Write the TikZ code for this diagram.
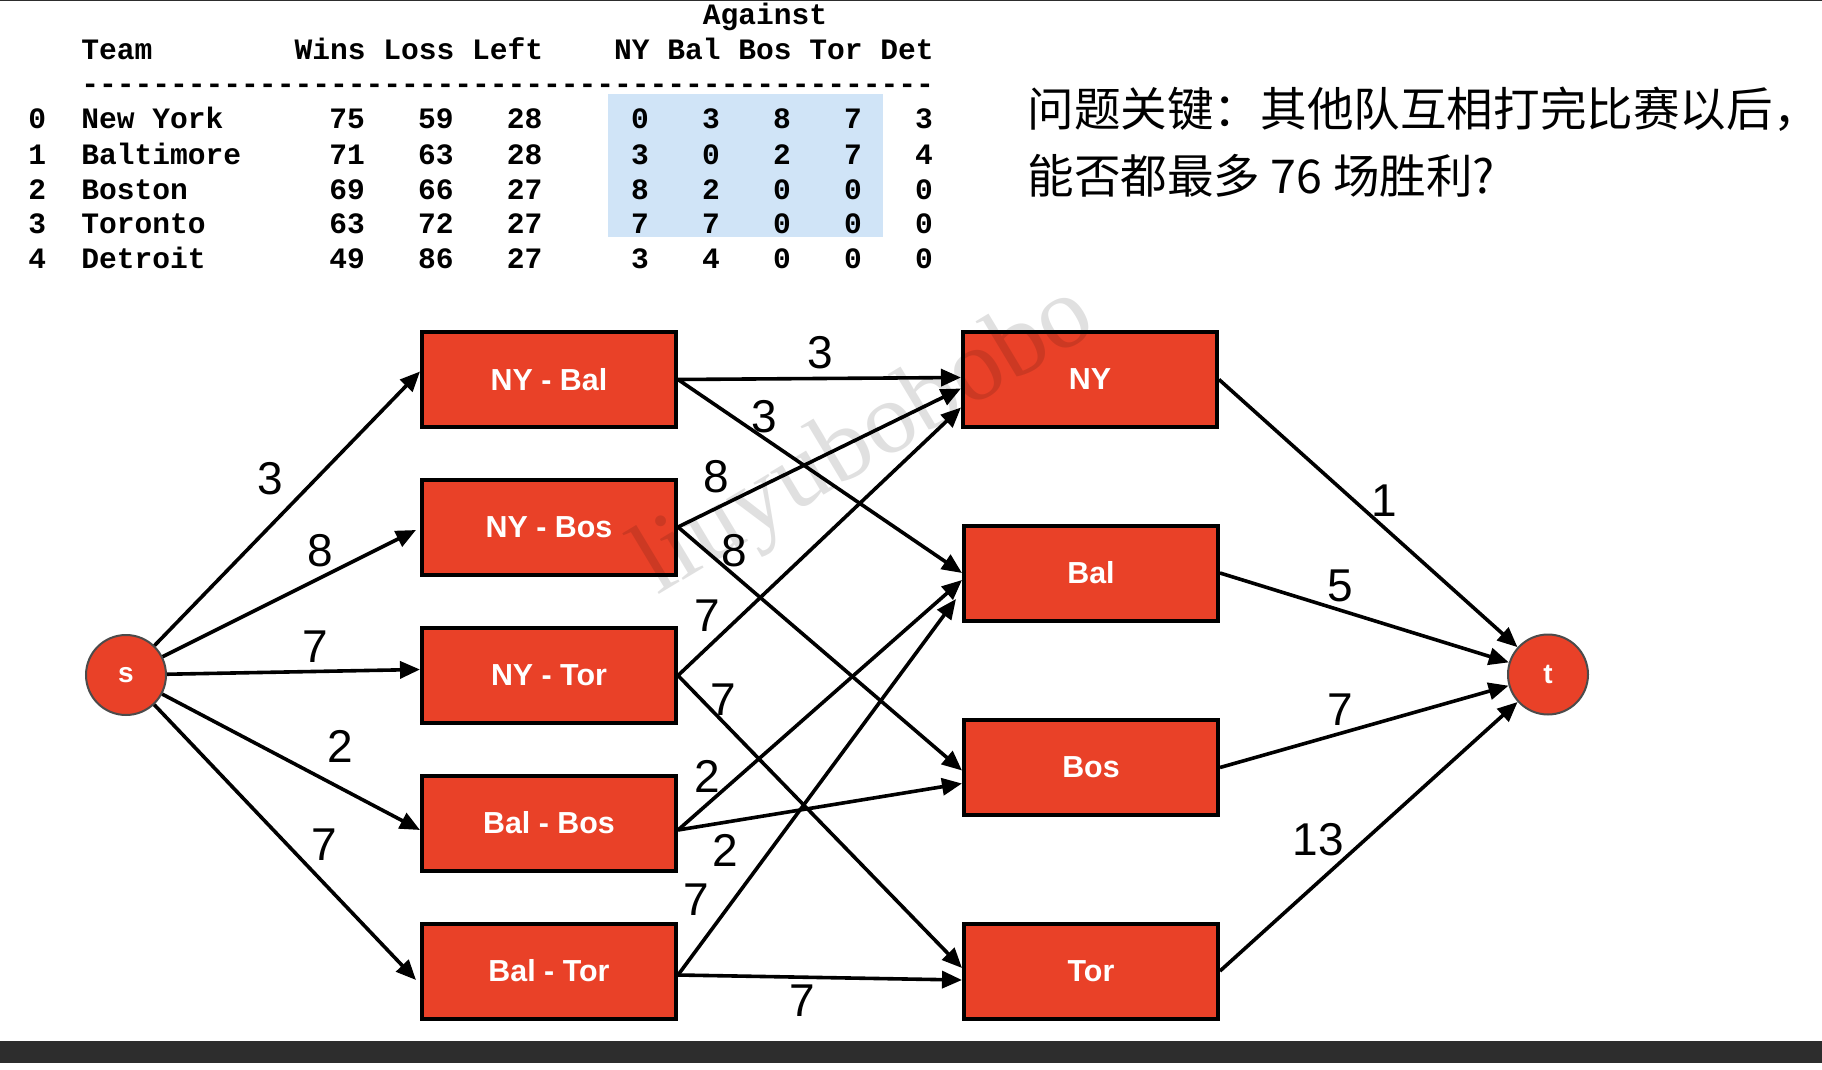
\documentclass[tikz,border=0pt]{standalone}
\usepackage{fontspec}
\setmainfont{Liberation Sans}
\newfontfamily\tabfont{Liberation Mono}
\newfontfamily\cjkfont{Noto Sans CJK SC}
\newfontfamily\wmfont{Liberation Serif}
\usepackage{tikz}
\usetikzlibrary{arrows.meta,calc}
\definecolor{boxred}{RGB}{233,65,40}
\definecolor{hlblue}{RGB}{208,228,247}
\definecolor{rimgrey}{RGB}{75,75,75}
\definecolor{barbg}{RGB}{45,45,45}
\tikzset{
  team/.style={draw=black,fill=boxred,line width=2pt,minimum width=127pt,
               minimum height=47.5pt,inner sep=0pt,text=white,
               font=\fontsize{15.2}{17}\selectfont\bfseries},
  term/.style={circle,draw=rimgrey,fill=boxred,line width=1pt,minimum size=40pt,
               inner sep=0pt,text=white,font=\fontsize{14}{16}\selectfont\bfseries},
  flow/.style={-{Triangle[length=10pt,width=8.5pt]},line width=1.8pt},
  elbl/.style={font=\fontsize{23}{27}\selectfont,inner sep=0pt},
  tcell/.style={font=\tabfont\bfseries\fontsize{14.8}{17}\selectfont,inner sep=0pt,anchor=base west},
  tnum/.style={tcell,anchor=base east},
  qtext/.style={font=\cjkfont\fontsize{23.3}{30}\selectfont,inner sep=0pt,anchor=base west},
}

\begin{document}
\begin{tikzpicture}[x=0.5pt,y=0.5pt]
  \useasboundingbox (0,0) rectangle (1822,-1070);
  \fill[barbg] (0,0) rectangle (1822,-1.5);
  \fill[barbg] (0,-1041) rectangle (1822,-1063);

  % score table
  \fill[hlblue] (608,-94) rectangle (883,-237);
  \node[tcell] (against) at (702.5,-25) {Against};
  \node[tcell] (hteam) at (81,-60) {Team};
  \node[tcell] (hwins) at (294.25,-60) {Wins};
  \node[tcell] (hloss) at (383,-60) {Loss};
  \node[tcell] (hleft) at (471.75,-60) {Left};
  \node[tcell] (hny)   at (613.75,-60) {NY};
  \node[tcell] (hbal)  at (667,-60) {Bal};
  \node[tcell] (hbos)  at (738,-60) {Bos};
  \node[tcell] (htor)  at (809,-60) {Tor};
  \node[tcell] (hdet)  at (880,-60) {Det};
  \node[tcell] (dashes) at (81,-94) {\foreach \k in {1,...,48}{-}};
  \foreach \ri/\tname/\nwin/\nloss/\nleft/\gny/\gbal/\gbos/\gtor/\gdet in
      {0/New York/75/59/28/0/3/8/7/3,
       1/Baltimore/71/63/28/3/0/2/7/4,
       2/Boston/69/66/27/8/2/0/0/0,
       3/Toronto/63/72/27/7/7/0/0/0,
       4/Detroit/49/86/27/3/4/0/0/0}{
    \pgfmathsetmacro\yy{-129-35*\ri}
    \node[tcell] (idx\ri)  at (28,\yy) {\ri};
    \node[tcell] (name\ri) at (81,\yy) {\tname};
    \node[tnum] (win\ri)  at (365.25,\yy) {\nwin};
    \node[tnum] (loss\ri) at (454,\yy) {\nloss};
    \node[tnum] (left\ri) at (542.75,\yy) {\nleft};
    \node[tnum] (gny\ri)  at (649.25,\yy) {\gny};
    \node[tnum] (gbal\ri) at (720.25,\yy) {\gbal};
    \node[tnum] (gbos\ri) at (791.25,\yy) {\gbos};
    \node[tnum] (gtor\ri) at (862.25,\yy) {\gtor};
    \node[tnum] (gdet\ri) at (933.25,\yy) {\gdet};
  }

  % question
  \node[qtext] (q1) at (1027,-127) {问题关键：其他队互相打完比赛以后，};
  \node[qtext] (q2) at (1027,-193) {能否都最多 76 场胜利?};

  % flow network
  \node[term] (s) at (126,-675) {s};
  \node[term] (t) at (1548,-674.5) {t};
  \node[team] (nybal)  at (549,-379.5) {NY - Bal};
  \node[team] (nybos)  at (549,-527) {NY - Bos};
  \node[team] (nytor)  at (549,-675.5) {NY - Tor};
  \node[team] (balbos) at (549,-823) {Bal - Bos};
  \node[team] (baltor) at (549,-971) {Bal - Tor};
  \node[team] (ny)  at (1090,-379.5) {NY};
  \node[team] (bal) at (1091,-573) {Bal};
  \node[team] (bos) at (1091,-767.5) {Bos};
  \node[team] (tor) at (1091,-971) {Tor};

  \draw[flow] (s) -- ($(nybal.west)+(0,8)$);
  \draw[flow] (s) -- ($(nybos.west)+(-4,-3)$);
  \draw[flow] (s) -- ($(nytor.west)+(0,6)$);
  \draw[flow] (s) -- ($(balbos.west)+(0,-7)$);
  \draw[flow] (s) -- ($(baltor.west)+(-4,-9)$);
  \node[elbl] (c1) at (270,-479) {3};
  \node[elbl] (c2) at (320,-551) {8};
  \node[elbl] (c3) at (315,-647) {7};
  \node[elbl] (c4) at (340,-746) {2};
  \node[elbl] (c5) at (324,-845) {7};

  \draw[flow] (nybal.east) -- ($(ny.west)+(0,2)$);
  \draw[flow] (nybal.east) -- (bal.west);
  \draw[flow] (nybos.east) -- ($(ny.west)+(0,-9)$);
  \draw[flow] (nybos.east) -- ($(bos.west)+(0,-3)$);
  \draw[flow] (nytor.east) -- ($(ny.west)+(0,-28)$);
  \draw[flow] (nytor.east) -- ($(tor.west)+(0,3)$);
  \draw[flow] ($(balbos.east)+(0,-7)$) -- ($(bal.west)+(0,-7)$);
  \draw[flow] ($(balbos.east)+(0,-7)$) -- ($(bos.west)+(0,-16)$);
  \draw[flow] ($(baltor.east)+(0,-4)$) -- ($(bal.west)+(-6,-26)$);
  \draw[flow] ($(baltor.east)+(0,-4)$) -- ($(tor.west)+(0,-9)$);
  \node[elbl] (m1)  at (820,-353) {3};
  \node[elbl] (m2)  at (764,-417) {3};
  \node[elbl] (m3)  at (716,-477) {8};
  \node[elbl] (m4)  at (734,-551) {8};
  \node[elbl] (m5)  at (707,-616) {7};
  \node[elbl] (m6)  at (723,-700) {7};
  \node[elbl] (m7)  at (707,-776) {2};
  \node[elbl] (m8)  at (725,-850) {2};
  \node[elbl] (m9)  at (696,-900) {7};
  \node[elbl] (m10) at (802,-1001) {7};

  \draw[flow] (ny.east)  -- (t);
  \draw[flow] (bal.east) -- (t);
  \draw[flow] (bos.east) -- (t);
  \draw[flow] (tor.east) -- (t);
  \node[elbl] (r1) at (1384,-501) {1};
  \node[elbl] (r2) at (1340,-586) {5};
  \node[elbl] (r3) at (1340,-710) {7};
  \node[elbl] (r4) at (1318,-840) {13};

  % watermark
  \node[font=\wmfont\fontsize{51}{56}\selectfont,text=black,text opacity=0.12,
        rotate=31] (wm) at (866,-442) {liuyubobobo};
\end{tikzpicture}
\end{document}
